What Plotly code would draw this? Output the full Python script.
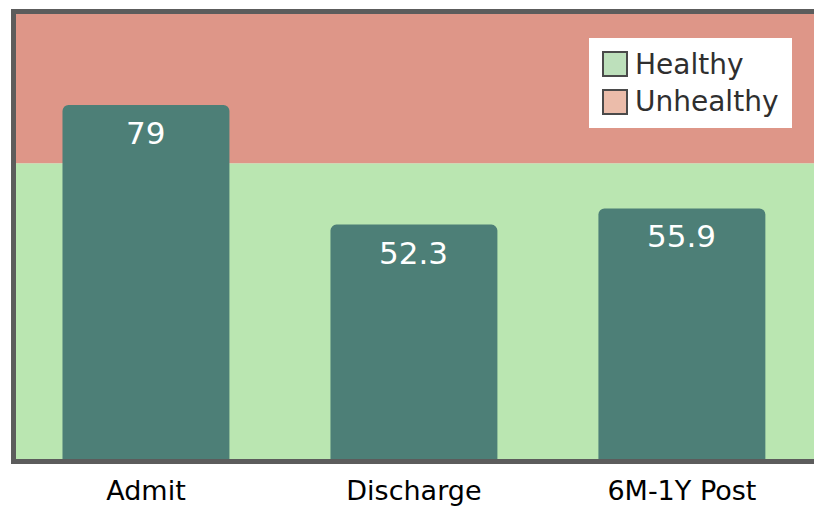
import plotly.graph_objects as go

# Scores at each time point
categories = ["Admit", "Discharge", "6M-1Y Post"]
scores = [79, 52.3, 55.9]

# Score bands
healthy_max = 66
scale_max = 99.3

BAR = "#4d7f77"
GREEN = "#bae6b1"
RED = "#de9688"
LINE = "#5c5c5c"
FONT = "DejaVu Sans"

W, H = 814, 506
L, R, T, B = 16, 0, 14, 47

fig = go.Figure()
fig.add_trace(go.Bar(
    x=list(range(len(categories))),
    y=scores,
    width=0.623,
    marker=dict(color=BAR, line=dict(width=0)),
    hoverinfo="skip",
    showlegend=False,
))

# background bands
fig.add_shape(type="rect", xref="x domain", yref="y", x0=0, x1=1, y0=0, y1=healthy_max,
              fillcolor=GREEN, line=dict(width=0), layer="below")
fig.add_shape(type="rect", xref="x domain", yref="y", x0=0, x1=1, y0=healthy_max, y1=scale_max,
              fillcolor=RED, line=dict(width=0), layer="below")

# value labels inside the bars
for i, v in enumerate(scores):
    fig.add_annotation(x=i, y=v, text=f"{v:g}", showarrow=False, yanchor="middle",
                       yshift=-28, font=dict(family=FONT, size=31, color="white"))

# legend box drawn in pixel space
pw, ph = W - L - R, H - T - B
def px(x):
    return (x - L) / pw
def py(y):
    return (H - B - y) / ph

fig.add_shape(type="rect", xref="paper", yref="paper", x0=px(589), x1=px(792),
              y0=py(128), y1=py(38), fillcolor="white", line=dict(width=0))
legend_items = [("Healthy", "#bde0bb", 64), ("Unhealthy", "#ebbcaa", 102)]
for label, col, yc in legend_items:
    fig.add_shape(type="rect", xref="paper", yref="paper", x0=px(603), x1=px(627),
                  y0=py(yc + 12), y1=py(yc - 12), fillcolor=col,
                  line=dict(color="#4a4a4a", width=2))
    fig.add_annotation(xref="paper", yref="paper", x=px(633), y=py(yc), text=label,
                       showarrow=False, xanchor="left", yanchor="middle",
                       font=dict(family=FONT, size=28, color="#2f2f2f"))

fig.update_layout(
    width=W, height=H,
    margin=dict(l=L, r=R, t=T, b=B),
    paper_bgcolor="white",
    plot_bgcolor="white",
    barcornerradius=6,
    showlegend=False,
    xaxis=dict(
        range=[-0.485, 2.493],
        tickvals=list(range(len(categories))),
        ticktext=categories,
        tickfont=dict(family=FONT, size=27, color="black"),
        ticklabelstandoff=4,
        automargin=False,
        showline=True, linecolor=LINE, linewidth=5, mirror=True,
        showgrid=False, zeroline=False, ticks="",
    ),
    yaxis=dict(
        range=[0, scale_max],
        showticklabels=False,
        automargin=False,
        showline=True, linecolor=LINE, linewidth=5,
        showgrid=False, zeroline=False, ticks="",
    ),
)

fig.write_html("out.html")
